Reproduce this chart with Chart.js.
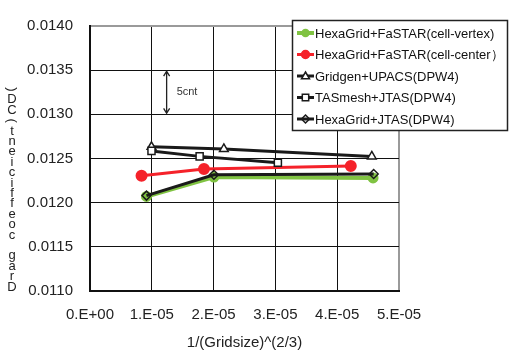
<!DOCTYPE html>
<html>
<head>
<meta charset="utf-8">
<script src="https://cdn.jsdelivr.net/npm/chart.js@4.4.0/dist/chart.umd.min.js"></script>
<style>
  html, body { margin: 0; padding: 0; background: #fff; }
  #wrap { width: 509px; height: 352px; }
</style>
</head>
<body>
<div id="wrap"><canvas id="dragChart" width="509" height="352"></canvas></div>
<script>
// series labels
const seriesNames = ['HexaGrid+FaSTAR(cell-vertex)', 'HexaGrid+FaSTAR(cell-center\uFF09', 'Gridgen+UPACS(DPW4)', 'TASmesh+JTAS(DPW4)', 'HexaGrid+JTAS(DPW4)'];

// x = 1/(Gridsize)^(2/3), y = drag coefficient
const cellVertexX = [9.14e-6, 2.005e-5, 4.58e-5];
const cellVertexY = [0.01207, 0.01229, 0.01228];
const cellCenterX = [8.34e-6, 1.844e-5, 4.22e-5];
const cellCenterY = [0.012305, 0.01238, 0.012415];
const upacsX = [9.95e-6, 2.166e-5, 4.56e-5];
const upacsY = [0.012633, 0.012608, 0.012524];
const tasX = [9.95e-6, 1.774e-5, 3.04e-5];
const tasY = [0.012586, 0.012524, 0.012452];
const jtasX = [9.14e-6, 2.005e-5, 4.59e-5];
const jtasY = [0.01208, 0.012316, 0.012324];

const xTickLabels = ['0.E+00', '1.E-05', '2.E-05', '3.E-05', '4.E-05', '5.E-05'];
const yTickLabels = ['0.0110', '0.0115', '0.0120', '0.0125', '0.0130', '0.0135', '0.0140'];
const xTitle = '1/(Gridsize)^(2/3)';
const yTitle = 'Drag coefficient(CD)';
const noteText = '5cnt';

function pts(xs, ys) {
    return xs.map(function (x, i) { return { x: x, y: ys[i] }; });
}

const FONT = '"Liberation Sans", Arial, sans-serif';

// legend box + 5cnt arrow + stacked y title
const extras = {
    id: 'extras',
    afterDraw: function (chart) {
        const ctx = chart.ctx;
        const xs = chart.scales.x, ys = chart.scales.y;
        ctx.save();

        // 5cnt arrow
        const ax = xs.getPixelForValue(1.24e-5);
        const y1 = ys.getPixelForValue(0.0135), y2 = ys.getPixelForValue(0.0130);
        ctx.strokeStyle = '#222';
        ctx.lineWidth = 1.3;
        ctx.beginPath();
        ctx.moveTo(ax, y1 + 1); ctx.lineTo(ax, y2 - 1);
        ctx.moveTo(ax - 3, y1 + 6); ctx.lineTo(ax, y1 + 1); ctx.lineTo(ax + 3, y1 + 6);
        ctx.moveTo(ax - 3, y2 - 6); ctx.lineTo(ax, y2 - 1); ctx.lineTo(ax + 3, y2 - 6);
        ctx.stroke();
        ctx.fillStyle = '#333';
        ctx.font = '11px ' + FONT;
        ctx.textBaseline = 'middle';
        ctx.fillText(noteText, ax + 10, (y1 + y2) / 2);

        // y title, upright characters stacked bottom to top
        ctx.fillStyle = '#222';
        ctx.font = '13px ' + FONT;
        ctx.textAlign = 'center';
        const chars = yTitle.split('');
        chars.forEach(function (c, i) {
            const cy = 287 - i * 10.4;
            if (c === '(' || c === ')') {
                ctx.save();
                ctx.translate(12, cy);
                ctx.rotate(Math.PI / 2);
                ctx.fillText(c, 0, 0);
                ctx.restore();
            } else {
                ctx.fillText(c, 12, cy);
            }
        });

        // legend
        const bx = 292.5, by = 20.5, bw = 215, bh = 110;
        ctx.fillStyle = '#fff';
        ctx.fillRect(bx, by, bw, bh);
        ctx.strokeStyle = '#222';
        ctx.lineWidth = 1.5;
        ctx.strokeRect(bx, by, bw, bh);
        ctx.textAlign = 'left';
        ctx.font = '13px ' + FONT;
        chart.data.datasets.forEach(function (ds, i) {
            const ly = 33 + i * 21.5;
            ctx.strokeStyle = ds.borderColor;
            ctx.lineWidth = ds.borderWidth;
            ctx.beginPath();
            ctx.moveTo(297, ly); ctx.lineTo(314, ly);
            ctx.stroke();
            drawMarker(ctx, ds.pointStyle, 305.5, ly, Math.min(ds.pointRadius, 4), ds.pointBackgroundColor, ds.pointBorderColor);
            ctx.fillStyle = '#111';
            ctx.fillText(ds.label, 315, ly + 1);
        });
        ctx.restore();
    }
};

function drawMarker(ctx, style, x, y, r, fill, stroke) {
    ctx.beginPath();
    if (style === 'circle') {
        ctx.arc(x, y, r, 0, Math.PI * 2);
    } else if (style === 'triangle') {
        ctx.moveTo(x, y - r); ctx.lineTo(x + r, y + r * 0.7); ctx.lineTo(x - r, y + r * 0.7); ctx.closePath();
    } else if (style === 'rect') {
        ctx.rect(x - r * 0.8, y - r * 0.8, r * 1.6, r * 1.6);
    } else {
        ctx.moveTo(x, y - r); ctx.lineTo(x + r, y); ctx.lineTo(x, y + r); ctx.lineTo(x - r, y); ctx.closePath();
    }
    ctx.fillStyle = fill;
    ctx.fill();
    ctx.strokeStyle = stroke;
    ctx.lineWidth = 1.5;
    ctx.stroke();
}

const dragChart = new Chart(document.getElementById('dragChart'), {
    type: 'scatter',
    data: {
        datasets: [{
            label: seriesNames[0],
            data: pts(cellVertexX, cellVertexY),
            showLine: true,
            borderColor: '#80c342',
            borderWidth: 4,
            pointStyle: 'circle',
            pointRadius: 3.5,
            pointBackgroundColor: '#80c342',
            pointBorderColor: '#80c342',
            order: 5
        }, {
            label: seriesNames[1],
            data: pts(cellCenterX, cellCenterY),
            showLine: true,
            borderColor: '#f5222a',
            borderWidth: 3,
            pointStyle: 'circle',
            pointRadius: 4.5,
            pointBackgroundColor: '#f5222a',
            pointBorderColor: '#f5222a',
            order: 4
        }, {
            label: seriesNames[2],
            data: pts(upacsX, upacsY),
            showLine: true,
            borderColor: '#1a1a1a',
            borderWidth: 3,
            pointStyle: 'triangle',
            pointRadius: 5,
            pointBackgroundColor: '#fff',
            pointBorderColor: '#1a1a1a',
            pointBorderWidth: 1.5,
            order: 3
        }, {
            label: seriesNames[3],
            data: pts(tasX, tasY),
            showLine: true,
            borderColor: '#1a1a1a',
            borderWidth: 3,
            pointStyle: 'rect',
            pointRadius: 5,
            pointBackgroundColor: '#fff',
            pointBorderColor: '#1a1a1a',
            pointBorderWidth: 1.5,
            order: 2
        }, {
            label: seriesNames[4],
            data: pts(jtasX, jtasY),
            showLine: true,
            borderColor: '#1a1a1a',
            borderWidth: 3,
            pointStyle: 'rectRot',
            pointRadius: 4.5,
            pointBackgroundColor: 'rgba(0,0,0,0)',
            pointBorderColor: '#1a1a1a',
            pointBorderWidth: 1.5,
            order: 1
        }]
    },
    options: {
        responsive: false,
        animation: false,
        layout: {
            padding: { left: 0, right: 110, top: 17, bottom: 0 }
        },
        scales: {
            x: {
                type: 'linear',
                min: 0,
                max: 5e-5,
                ticks: {
                    stepSize: 1e-5,
                    padding: 15,
                    color: '#222',
                    font: { family: FONT, size: 15 },
                    callback: function (v, i) { return xTickLabels[i]; }
                },
                grid: {
                    drawTicks: false,
                    color: function (c) { return c.tick && c.tick.value >= 4.99e-5 ? '#9a9a9a' : '#111'; },
                    lineWidth: function (c) { return c.tick && c.tick.value >= 4.99e-5 ? 2 : 1; }
                },
                border: { color: '#111', width: 2 },
                title: {
                    display: true,
                    text: xTitle,
                    color: '#222',
                    font: { family: FONT, size: 15 },
                    padding: { top: 0, bottom: 0 }
                },
                afterFit: function (s) { s.height = 61; }
            },
            y: {
                min: 0.011,
                max: 0.014,
                ticks: {
                    stepSize: 0.0005,
                    padding: 17,
                    color: '#222',
                    font: { family: FONT, size: 15 },
                    callback: function (v, i) { return yTickLabels[i]; }
                },
                grid: {
                    drawTicks: false,
                    color: function (c) { return c.tick && c.tick.value >= 0.01399 ? '#9a9a9a' : '#111'; },
                    lineWidth: function (c) { return c.tick && c.tick.value >= 0.01399 ? 2 : 1; }
                },
                border: { color: '#111', width: 2 },
                afterFit: function (s) { s.width = 90; }
            }
        },
        plugins: {
            legend: { display: false },
            tooltip: { enabled: false }
        }
    },
    plugins: [extras]
});
</script>
</body>
</html>
